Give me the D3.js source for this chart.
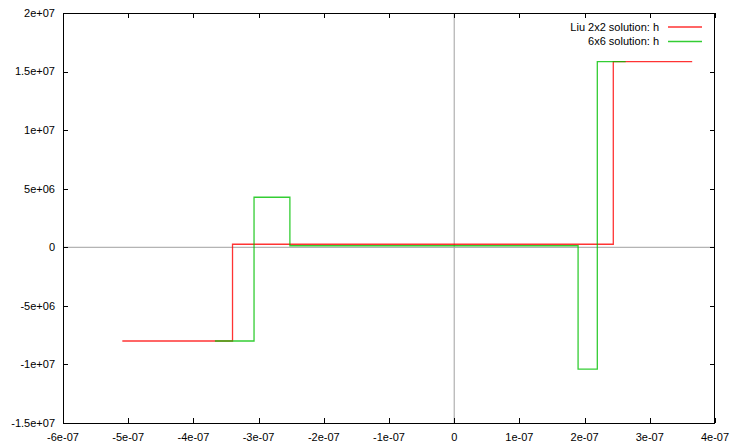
<!DOCTYPE html>
<html>
<head>
<meta charset="utf-8">
<script src="https://cdn.jsdelivr.net/npm/d3@7/dist/d3.min.js"></script>
<style>
  html, body { margin: 0; padding: 0; background: #fff; }
  svg { display: block; }
  text { font-family: "Liberation Sans", Arial, Helvetica, sans-serif; font-size: 11px; fill: #000; }
</style>
</head>
<body>
<svg id="chart" width="736" height="444"></svg>
<script>
// ---- data ----
const xTicks = [-6e-7, -5e-7, -4e-7, -3e-7, -2e-7, -1e-7, 0, 1e-7, 2e-7, 3e-7, 4e-7];
const xTickLabels = ["-6e-07", "-5e-07", "-4e-07", "-3e-07", "-2e-07", "-1e-07", "0", "1e-07", "2e-07", "3e-07", "4e-07"];
const yTicks = [-1.5e7, -1e7, -5e6, 0, 5e6, 1e7, 1.5e7, 2e7];
const yTickLabels = ["-1.5e+07", "-1e+07", "-5e+06", "0", "5e+06", "1e+07", "1.5e+07", "2e+07"];

const seriesNames = ["Liu 2x2 solution: h", "6x6 solution: h"];
// step functions: edges (x) and values (h) on each interval
const liuEdges = [-5.09e-7, -3.40e-7, 2.44e-7, 3.65e-7];
const liuValues = [-8.0e6, 2.6e5, 1.585e7];
const sixEdges = [-3.67e-7, -3.07e-7, -2.52e-7, 1.90e-7, 2.195e-7, 2.63e-7];
const sixValues = [-8.0e6, 4.27e6, 1.3e5, -1.04e7, 1.585e7];

const colors = ["#ff0000", "#00c000"];

// ---- layout ----
const svg = d3.select("#chart");
const L = 63, R = 715, T = 13, B = 423;
const x = d3.scaleLinear().domain([-6e-7, 4e-7]).range([L, R]);
const y = d3.scaleLinear().domain([-1.5e7, 2e7]).range([B, T]);

// zero axes
svg.append("line").attr("x1", x(0)).attr("x2", x(0)).attr("y1", T).attr("y2", B)
  .attr("stroke", "#a0a0a0").attr("stroke-width", 1);
svg.append("line").attr("x1", L).attr("x2", R).attr("y1", y(0)).attr("y2", y(0))
  .attr("stroke", "#a0a0a0").attr("stroke-width", 1);

// ticks (inward, mirrored)
const tl = 5;
const gx = svg.append("g");
xTicks.forEach((t, i) => {
  const px = Math.round(x(t)) + 0.5;
  gx.append("line").attr("x1", px).attr("x2", px).attr("y1", B).attr("y2", B - tl).attr("stroke", "#000");
  gx.append("line").attr("x1", px).attr("x2", px).attr("y1", T).attr("y2", T + tl).attr("stroke", "#000");
  gx.append("text").attr("x", x(t)).attr("y", B + 18).attr("text-anchor", "middle").text(xTickLabels[i]);
});
const gy = svg.append("g");
yTicks.forEach((t, i) => {
  const py = Math.round(y(t)) + 0.5;
  gy.append("line").attr("x1", L).attr("x2", L + tl).attr("y1", py).attr("y2", py).attr("stroke", "#000");
  gy.append("line").attr("x1", R).attr("x2", R - tl).attr("y1", py).attr("y2", py).attr("stroke", "#000");
  gy.append("text").attr("x", L - 8).attr("y", y(t)).attr("dy", "0.35em").attr("text-anchor", "end").text(yTickLabels[i]);
});

// series
function stepPoints(edges, values) {
  const pts = values.map((v, i) => [edges[i], v]);
  pts.push([edges[edges.length - 1], values[values.length - 1]]);
  return pts;
}
const line = d3.line().x(d => x(d[0])).y(d => y(d[1])).curve(d3.curveStepAfter);
const allSeries = [stepPoints(liuEdges, liuValues), stepPoints(sixEdges, sixValues)];
allSeries.forEach((pts, i) => {
  svg.append("path").attr("d", line(pts)).attr("fill", "none")
    .attr("stroke", colors[i]).attr("stroke-width", 1.3).attr("stroke-opacity", 0.8);
});

// border
svg.append("rect").attr("x", L + 0.5).attr("y", T + 0.5).attr("width", R - L - 1).attr("height", B - T)
  .attr("fill", "none").attr("stroke", "#000").attr("stroke-width", 1);

// legend
seriesNames.forEach((n, i) => {
  const ly = 27 + i * 14.5;
  svg.append("text").attr("x", 659).attr("y", ly).attr("dy", "0.35em").attr("text-anchor", "end").text(n);
  svg.append("line").attr("x1", 668).attr("x2", 702).attr("y1", ly).attr("y2", ly)
    .attr("stroke", colors[i]).attr("stroke-width", 1.3).attr("stroke-opacity", 0.8);
});
</script>
</body>
</html>
